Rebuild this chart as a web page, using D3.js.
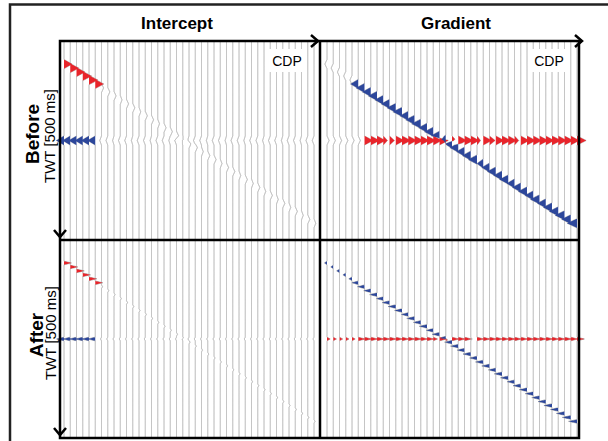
<!DOCTYPE html>
<html lang='en'>
<head>
<meta http-equiv='Content-Type' content='text/html;charset=utf-8'/>
<title>Intercept and gradient, before and after</title>
<script src='https://d3js.org/d3.v7.min.js'></script>
<style>
  body { margin: 0; background: #fff; }
  text { font-family: 'Liberation Sans', Arial, sans-serif; fill: #000; }
</style>
</head>
<body>
<script>
'use strict'
const width = 608
const height = 441

// traces (CDP numbers) and event times in ms
const cdp = d3.range(1, 42)
const dipTime = [58, 68, 78, 88, 98, 108, 118, 128, 138, 148,
                 158, 168, 178, 188, 198, 208, 218, 228, 238, 248,
                 258, 268, 278, 288, 298, 308, 318, 328, 338, 348,
                 358, 368, 378, 388, 398, 408, 418, 428, 438, 448,
                 458]
const flatTime = 250

// amplitudes per trace, one trace spacing = 1
const beforeInterceptDip = [1.15, 1.2, 1.2, 1.25, 1.25, 1.2, 0.3, 0.3, 0.3, 0.25,
                            0.3, 0.3, 0.25, 0.3, 0.3, 0.25, 0.3, 0.3, 0.3, 0.25,
                            0.3, 0.3, 0.25, 0.3, 0.3, 0.25, 0.3, 0.3, 0.25, 0.3,
                            0.25, 0.3, 0.25, 0.3, 0.25, 0.3, 0.25, 0.3, 0.25, 0.3,
                            0.25]
const beforeInterceptFlat = [-1.1, -1.1, -1.1, -1.1, -1.1, -1.1, -0.25, -0.25, -0.2, -0.25,
                             -0.25, -0.2, -0.25, -0.25, -0.2, -0.25, -0.25, -0.2, -0.25, -0.25,
                             -0.2, -0.25, -0.25, -0.2, -0.25, -0.25, -0.2, -0.25, -0.25, -0.2,
                             -0.25, -0.25, -0.2, -0.25, -0.25, -0.2, -0.25, -0.25, -0.2, -0.25,
                             -0.25]
const beforeGradientDip = [-0.3, -0.3, -0.3, -0.3, -0.3, -1.1, -1.2, -1.2, -1.25, -1.2,
                           -1.2, -1.25, -1.3, -1.2, -1.25, -1.3, -1.2, -1.25, -1.2, -1.1,
                           -1.1, -1.2, -1.15, -1.2, -1.25, -0.9, -1.1, -1.2, -1.2, -1.25,
                           -1.1, -1.2, -1.25, -1.2, -1.3, -1.2, -1.25, -1.3, -1.35, -1.3,
                           -1.4]
const beforeGradientFlat = [0.3, 0.3, 0.3, 0.3, 0.3, 0.3, 1.2, 1.25, 1.2, 0.6,
                            0.7, 1.2, 1.25, 1.2, 1.25, 1.2, 1.3, 1.2, 1.25, 0.6,
                            0.6, 1.2, 1.25, 1.2, 0.5, 1.2, 0.8, 1.2, 1.25, 1.2,
                            0.6, 1.2, 1.25, 1.2, 1.25, 1.2, 1.3, 1.2, 1.25, 1.2,
                            1.3]
const afterInterceptDip = [1.05, 1.05, 1.1, 1.1, 1.1, 1.05, 0.15, 0.15, 0.15, 0.15,
                           0.15, 0.15, 0.15, 0.15, 0.15, 0.15, 0.15, 0.15, 0.15, 0.15,
                           0.15, 0.15, 0.15, 0.15, 0.15, 0.15, 0.15, 0.15, 0.15, 0.15,
                           0.15, 0.15, 0.15, 0.15, 0.15, 0.15, 0.15, 0.15, 0.15, 0.15,
                           0.15]
const afterInterceptFlat = [-1.05, -1.05, -1.05, -1.05, -1.05, -1.05, -0.15, -0.15, -0.15, -0.15,
                            -0.15, -0.15, -0.15, -0.15, -0.15, -0.15, -0.15, -0.15, -0.15, -0.15,
                            -0.15, -0.15, -0.15, -0.15, -0.15, -0.15, -0.15, -0.15, -0.15, -0.15,
                            -0.15, -0.15, -0.15, -0.15, -0.15, -0.15, -0.15, -0.15, -0.15, -0.15,
                            -0.15]
const afterGradientDip = [-0.35, -0.35, -0.4, -0.4, -0.45, -0.9, -1.0, -1.0, -1.05, -1.0,
                          -1.05, -1.1, -1.05, -1.0, -1.1, -1.05, -1.1, -1.0, -1.05, -1.1,
                          -1.05, -1.1, -1.05, -1.1, -1.05, -1.1, -1.1, -1.05, -1.1, -1.1,
                          -1.05, -1.1, -1.1, -1.15, -1.1, -1.1, -1.15, -1.1, -1.15, -1.2,
                          -1.2]
const afterGradientFlat = [0.45, 0.45, 0.45, 0.45, 0.45, 1.0, 1.0, 1.0, 1.05, 1.0,
                           1.0, 1.05, 1.0, 1.0, 1.05, 1.0, 1.0, 0.6, 1.0, 0.6,
                           1.0, 1.0, 1.0, 0.2, 1.0, 1.0, 1.05, 1.0, 1.0, 1.05,
                           1.0, 1.0, 1.05, 1.0, 1.0, 1.05, 1.0, 1.0, 1.05, 1.0,
                           1.05]

const columns = ['Intercept', 'Gradient']
const rows = ['Before', 'After']
const timeLabel = 'TWT [500 ms]'
const cdpLabel = 'CDP'

const red = '#e8252b'
const blue = '#2d479b'
const fillClip = 0.35

const svg = d3.select('body').append('svg')
  .attr('width', width)
  .attr('height', height)

svg.append('rect')
  .attr('width', '100%')
  .attr('height', '100%')
  .attr('fill', '#ffffff')

const xLeft = d3.scaleLinear().domain([1, 41]).range([64, 314])
const xRight = d3.scaleLinear().domain([1, 41]).range([327, 577])
const yTop = d3.scaleLinear().domain([0, 500]).range([41, 240])
const yBottom = d3.scaleLinear().domain([0, 500]).range([240, 438])
const amp = d3.scaleLinear().domain([0, 1]).range([0, 7])

const panels = [
  {x: xLeft, y: yTop, dip: beforeInterceptDip, flat: beforeInterceptFlat, half: 11.5},
  {x: xRight, y: yTop, dip: beforeGradientDip, flat: beforeGradientFlat, half: 11.5},
  {x: xLeft, y: yBottom, dip: afterInterceptDip, flat: afterInterceptFlat, half: 4.5},
  {x: xRight, y: yBottom, dip: afterGradientDip, flat: afterGradientFlat, half: 4.5}
]

const samples = d3.range(0, 500.01, 0.5)
const pulse = u => Math.max(0, 1 - Math.abs(u))

// sum of both events on trace i at time t; strong = only the filled ones
function signal(p, i, t, strong)
{
  let s = 0
  const a = p.dip[i]
  const b = p.flat[i]
  if (!strong || Math.abs(a) >= fillClip) s += a * pulse((t - dipTime[i]) / p.half)
  if (!strong || Math.abs(b) >= fillClip) s += b * pulse((t - flatTime) / p.half)
  return s
}

panels.forEach(p => {
  const g = svg.append('g')
  cdp.forEach((c, i) => {
    const base = p.x(c)
    const line = d3.line()
      .x(t => base + amp(signal(p, i, t, false)))
      .y(t => p.y(t))
    g.append('path')
      .attr('d', line(samples))
      .attr('fill', 'none')
      .attr('stroke', '#a9a9a9')
      .attr('stroke-width', 1)
  })
  cdp.forEach((c, i) => {
    const base = p.x(c)
    const pos = d3.area()
      .y(t => p.y(t))
      .x0(base)
      .x1(t => base + amp(Math.max(0, signal(p, i, t, true))))
    const neg = d3.area()
      .y(t => p.y(t))
      .x0(base)
      .x1(t => base + amp(Math.min(0, signal(p, i, t, true))))
    g.append('path').attr('d', pos(samples)).attr('fill', red)
    g.append('path').attr('d', neg(samples)).attr('fill', blue)
  })
})

// CDP labels on white boxes
const cdpBoxes = [287, 549]
cdpBoxes.forEach(cx => {
  svg.append('rect')
    .attr('x', cx - 20).attr('y', 49)
    .attr('width', 40).attr('height', 23)
    .attr('fill', '#fff')
  svg.append('text')
    .attr('x', cx).attr('y', 66)
    .attr('text-anchor', 'middle')
    .style('font-size', '14px')
    .text(cdpLabel)
})

// frames and arrows
const ink = '#000'
svg.append('rect')
  .attr('x', 10).attr('y', 4.5)
  .attr('width', 700).attr('height', 500)
  .attr('fill', 'none').attr('stroke', '#222').attr('stroke-width', 2.5)

svg.append('rect')
  .attr('x', 60).attr('y', 41)
  .attr('width', 519).attr('height', 397)
  .attr('fill', 'none').attr('stroke', ink).attr('stroke-width', 2.5)

svg.append('line').attr('x1', 320).attr('x2', 320).attr('y1', 41).attr('y2', 438)
  .attr('stroke', ink).attr('stroke-width', 2.5)
svg.append('line').attr('x1', 60).attr('x2', 579).attr('y1', 240).attr('y2', 240)
  .attr('stroke', ink).attr('stroke-width', 2.5)
svg.append('line').attr('x1', 579).attr('x2', 582).attr('y1', 41).attr('y2', 41)
  .attr('stroke', ink).attr('stroke-width', 2.5)

const rightHeads = [318, 582]
rightHeads.forEach(x => {
  svg.append('path')
    .attr('d', `M${x - 7},35 L${x},41 L${x - 7},47`)
    .attr('fill', 'none').attr('stroke', ink).attr('stroke-width', 2.5)
})
const downHeads = [237, 435]
downHeads.forEach(y => {
  svg.append('path')
    .attr('d', `M54,${y - 7} L60,${y} L66,${y - 7}`)
    .attr('fill', 'none').attr('stroke', ink).attr('stroke-width', 2.5)
})

// titles
const titleX = [177, 456]
columns.forEach((c, i) => {
  svg.append('text')
    .attr('x', titleX[i]).attr('y', 29)
    .attr('text-anchor', 'middle')
    .style('font-size', '17px').style('font-weight', 'bold')
    .text(c)
})

const rowPos = [{x: 39, cy: 134, tx: 55, ty: 136}, {x: 43, cy: 335, tx: 56, ty: 333}]
rows.forEach((r, i) => {
  svg.append('text')
    .attr('transform', `translate(${rowPos[i].x},${rowPos[i].cy}) rotate(-90)`)
    .attr('text-anchor', 'middle')
    .style('font-size', '19px').style('font-weight', 'bold')
    .text(r)
  svg.append('text')
    .attr('transform', `translate(${rowPos[i].tx},${rowPos[i].ty}) rotate(-90)`)
    .attr('text-anchor', 'middle')
    .style('font-size', '15px')
    .text(timeLabel)
})
</script>
</body>
</html>
